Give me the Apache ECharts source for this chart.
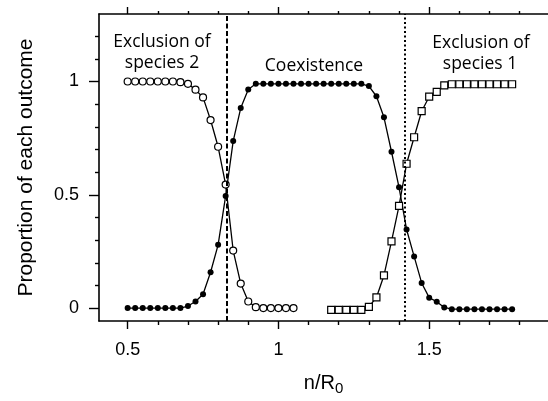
<!DOCTYPE html>
<html>
<head>
<meta charset="utf-8">
<script src="https://cdn.jsdelivr.net/npm/echarts@6/dist/echarts.min.js"></script>
<style>
  html, body { margin: 0; padding: 0; background: #fff; }
  #chart { width: 548px; height: 401px; }
</style>
</head>
<body>
<div id="chart"></div>
<script>
// values (n/R0 on x, proportion on y)
var xOpen = [0.5, 0.525, 0.55, 0.575, 0.6, 0.625, 0.65, 0.675, 0.7, 0.725, 0.75, 0.775,
  0.8, 0.825, 0.85, 0.875, 0.9, 0.925, 0.95, 0.975, 1.0, 1.025, 1.05];
var yOpen = [1, 1, 1, 1, 1, 1, 1, 0.997, 0.99, 0.964, 0.93, 0.83,
  0.712, 0.545, 0.254, 0.108, 0.029, 0.004, 0, 0, 0, 0, 0];

var xFilled = [0.5, 0.525, 0.55, 0.575, 0.6, 0.625, 0.65, 0.675, 0.7, 0.725, 0.75, 0.775,
  0.8, 0.825, 0.85, 0.875, 0.9, 0.925, 0.95, 0.975, 1.0, 1.025, 1.05, 1.075,
  1.1, 1.125, 1.15, 1.175, 1.2, 1.225, 1.25, 1.275, 1.3, 1.325, 1.35, 1.375,
  1.4, 1.425, 1.45, 1.475, 1.5, 1.525, 1.55, 1.575, 1.6, 1.625, 1.65, 1.675,
  1.7, 1.725, 1.75, 1.775];
var yFilled = [0, 0, 0, 0, 0, 0, 0, 0, 0.009, 0.029, 0.061, 0.158,
  0.279, 0.495, 0.737, 0.883, 0.965, 0.99, 0.99, 0.99, 0.99, 0.99, 0.99, 0.99,
  0.99, 0.99, 0.99, 0.99, 0.99, 0.99, 0.99, 0.99, 0.98, 0.935, 0.842, 0.69,
  0.533, 0.347, 0.228, 0.111, 0.046, 0.028, 0.003, -0.005, -0.005, -0.005, -0.005, -0.005,
  -0.005, -0.005, -0.005, -0.005];

var xSquare = [1.175, 1.2, 1.225, 1.25, 1.275, 1.3, 1.325, 1.35, 1.375, 1.4, 1.425, 1.45,
  1.475, 1.5, 1.525, 1.55, 1.575, 1.6, 1.625, 1.65, 1.675, 1.7, 1.725, 1.75, 1.775];
var ySquare = [-0.008, -0.008, -0.008, -0.008, -0.008, 0.005, 0.047, 0.144, 0.294, 0.451, 0.637, 0.754,
  0.869, 0.933, 0.954, 0.983, 0.988, 0.988, 0.988, 0.988, 0.988, 0.988, 0.988, 0.988, 0.988];

// boundaries between the outcomes
var boundaries = [0.828, 1.42];

// ticks
var xMajorTicks = [0.5, 1, 1.5];
var xMinorTicks = [0.6, 0.7, 0.8, 0.9, 1.1, 1.2, 1.3, 1.4, 1.6, 1.7, 1.8];
var yMajorTicks = [0, 0.5, 1];
var yMinorTicks = [0.1, 0.2, 0.3, 0.4, 0.6, 0.7, 0.8, 0.9, 1.1, 1.2];

function pairs(xs, ys) {
  var out = [];
  for (var i = 0; i < xs.length; i++) out.push([xs[i], ys[i]]);
  return out;
}

var X_MIN = 0.405, X_MAX = 1.894, Y_MIN = -0.057, Y_MAX = 1.298;
var axisFont = 'Liberation Sans, Arial, sans-serif';
var noteFont = 'Open Sans, sans-serif';

function xAx(pos, ticks, len, showLine, showLabel) {
  return {
    type: 'value', position: pos, min: X_MIN, max: X_MAX,
    axisLine: { show: showLine, onZero: false, lineStyle: { color: '#000', width: 1.6 } },
    axisTick: { show: true, customValues: ticks, length: len, lineStyle: { color: '#000', width: 1.4 } },
    axisLabel: showLabel ? { customValues: ticks, margin: 20, color: '#000', fontSize: 18, fontFamily: axisFont } : { show: false },
    splitLine: { show: false }
  };
}

function yAx(ticks, len, showLine, showLabel) {
  return {
    type: 'value', position: 'left', min: Y_MIN, max: Y_MAX,
    axisLine: { show: showLine, onZero: false, lineStyle: { color: '#000', width: 1.6 } },
    axisTick: { show: true, customValues: ticks, length: len, lineStyle: { color: '#000', width: 1.4 } },
    axisLabel: showLabel ? { customValues: ticks, margin: 20, color: '#000', fontSize: 18, fontFamily: axisFont } : { show: false },
    splitLine: { show: false }
  };
}

var xAxes = [
  xAx('bottom', xMajorTicks, 8, true, true),
  xAx('bottom', xMinorTicks, 4, false, false),
  xAx('top', xMajorTicks, 7, true, false),
  xAx('top', xMinorTicks, 3, false, false)
];
xAxes[0].name = 'n/R{sub|0}';
xAxes[0].nameLocation = 'middle';
xAxes[0].nameGap = 50;
xAxes[0].nameTextStyle = {
  color: '#000', fontSize: 20, fontFamily: axisFont,
  rich: { sub: { fontSize: 15, fontFamily: axisFont, color: '#000', verticalAlign: 'bottom', padding: [10, 0, 0, 0] } }
};

var yAxes = [
  yAx(yMajorTicks, 10, true, true),
  yAx(yMinorTicks, 4, false, false)
];
yAxes[0].name = 'Proportion of each outcome';
yAxes[0].nameLocation = 'middle';
yAxes[0].nameGap = 62;
yAxes[0].nameTextStyle = { color: '#000', fontSize: 21, fontFamily: axisFont };

var chart = echarts.init(document.getElementById('chart'), null, { renderer: 'canvas' });
chart.setOption({
  animation: false,
  backgroundColor: '#fff',
  grid: { left: 99, right: 0, top: 14, bottom: 72 },
  xAxis: xAxes,
  yAxis: yAxes,
  graphic: [
    { type: 'text', left: 'auto', x: 162, y: 42, style: { text: 'Exclusion of', fill: '#000', font: '17.5px ' + noteFont, align: 'center', verticalAlign: 'middle' } },
    { type: 'text', x: 162, y: 63, style: { text: 'species 2', fill: '#000', font: '17.5px ' + noteFont, align: 'center', verticalAlign: 'middle' } },
    { type: 'text', x: 314, y: 66, style: { text: 'Coexistence', fill: '#000', font: '17.5px ' + noteFont, align: 'center', verticalAlign: 'middle' } },
    { type: 'text', x: 481, y: 43, style: { text: 'Exclusion of', fill: '#000', font: '17.5px ' + noteFont, align: 'center', verticalAlign: 'middle' } },
    { type: 'text', x: 480, y: 64, style: { text: 'species 1', fill: '#000', font: '17.5px ' + noteFont, align: 'center', verticalAlign: 'middle' } }
  ],
  series: [
    {
      name: 'Exclusion of species 2', type: 'line', data: pairs(xOpen, yOpen),
      symbol: 'circle', symbolSize: 7,
      lineStyle: { color: '#000', width: 1.3 },
      itemStyle: { color: '#fff', borderColor: '#000', borderWidth: 1.2 },
      markLine: {
        silent: true, symbol: 'none', label: { show: false },
        data: [
          { xAxis: boundaries[0], lineStyle: { color: '#000', width: 2, type: [5, 2.5] } },
          { xAxis: boundaries[1], lineStyle: { color: '#000', width: 2, type: [2, 2.5] } }
        ]
      }
    },
    {
      name: 'Coexistence', type: 'line', data: pairs(xFilled, yFilled),
      symbol: 'circle', symbolSize: 6,
      lineStyle: { color: '#000', width: 1.3 },
      itemStyle: { color: '#000' }
    },
    {
      name: 'Exclusion of species 1', type: 'line', data: pairs(xSquare, ySquare),
      symbol: 'rect', symbolSize: 7,
      lineStyle: { color: '#000', width: 1.3 },
      itemStyle: { color: '#fff', borderColor: '#000', borderWidth: 1.2 }
    }
  ]
});
</script>
</body>
</html>
